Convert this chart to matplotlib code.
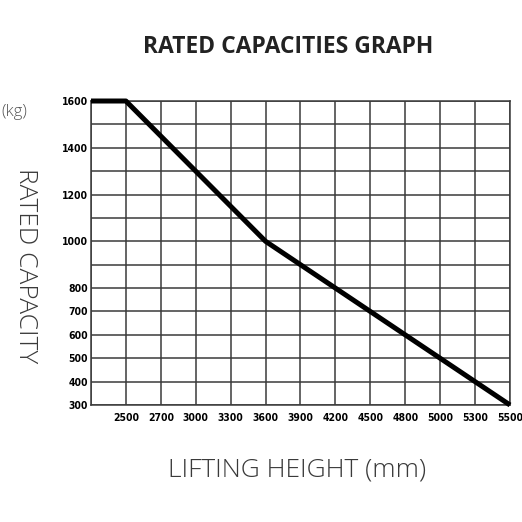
"""Rated capacities graph (lifting height vs. capacity)."""

import matplotlib

matplotlib.use("Agg")
import matplotlib.pyplot as plt  # noqa: E402
import numpy as np

# grid lines on the chart are evenly spaced, not to scale
X_GRID = [2300, 2500, 2700, 3000, 3300, 3600, 3900, 4200, 4500, 4800, 5000, 5300, 5500]
X_LABELS = ["", "2500", "2700", "3000", "3300", "3600", "3900", "4200", "4500", "4800", "5000", "5300", "5500"]
Y_GRID = [300, 400, 500, 600, 700, 800, 900, 1000, 1100, 1200, 1300, 1400, 1500, 1600]
Y_LABELS = ["300", "400", "500", "600", "700", "800", "", "1000", "", "1200", "", "1400", "", "1600"]

# capacity curve
HEIGHT = [2300, 2500, 3600, 5500]
CAPACITY = [1600, 1600, 1000, 300]

TEXT = "#3a3a3a"
GRID = "#3a3a3a"


def to_x(v):
    return np.interp(v, X_GRID, np.arange(len(X_GRID)))


def to_y(v):
    return np.interp(v, Y_GRID, np.arange(len(Y_GRID)))


fig = plt.figure(figsize=(5.22, 5.22), dpi=100, facecolor="white")
ax = fig.add_axes([0.1743, 0.2241, 0.8027, 0.5824])

ax.plot(to_x(HEIGHT), to_y(CAPACITY), color="black", lw=3.6, solid_capstyle="butt", zorder=3, clip_on=False)

ax.set_xlim(0, len(X_GRID) - 1)
ax.set_ylim(0, len(Y_GRID) - 1)
ax.set_xticks(np.arange(len(X_GRID)))
ax.set_yticks(np.arange(len(Y_GRID)))
tick_font = dict(family="DejaVu Sans", stretch="condensed", weight="bold", size=7.5)
ax.set_xticklabels(X_LABELS, **tick_font)
ax.set_yticklabels(Y_LABELS, **tick_font)
ax.tick_params(length=0, pad=6, colors="black")
ax.tick_params(axis="y", pad=2)
ax.grid(True, color=GRID, lw=1.1)
for spine in ax.spines.values():
    spine.set_color(GRID)
    spine.set_linewidth(1.1)

fig.text(0.553, 0.91, "RATED CAPACITIES GRAPH", ha="center", va="center",
         fontsize=16.5, weight="bold", color="#222222", family="Open Sans")
fig.text(0.570, 0.1, "LIFTING HEIGHT (mm)", ha="center", va="center",
         fontsize=19, color=TEXT, family="Open Sans", weight="light")
fig.text(0.048, 0.492, "RATED CAPACITY", ha="center", va="center", rotation=-90,
         fontsize=19, color=TEXT, family="Open Sans", weight="light")
fig.text(0.027, 0.785, "(kg)", ha="center", va="center",
         fontsize=12, color="#555555", family="Open Sans", weight="light")

fig.savefig("out.png", dpi=100, facecolor="white")
